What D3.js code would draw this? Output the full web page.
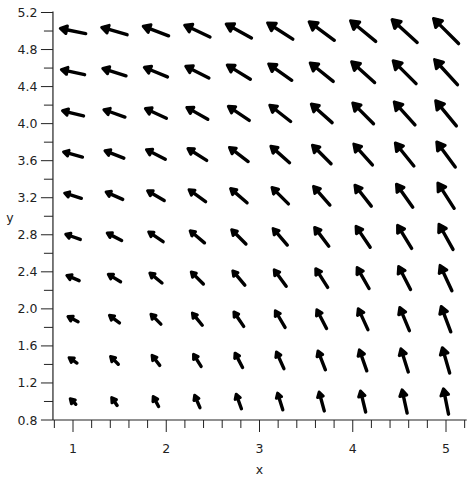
<!DOCTYPE html>
<html><head><meta charset="utf-8">
<script src="https://cdn.jsdelivr.net/npm/d3@7"></script>
<style>html,body{margin:0;padding:0;background:#fff;}svg{display:block;}</style>
</head><body>
<script>
// grid positions
const gridX = [1, 1.444, 1.889, 2.333, 2.778, 3.222, 3.667, 4.111, 4.556, 5];
const gridY = [1, 1.444, 1.889, 2.333, 2.778, 3.222, 3.667, 4.111, 4.556, 5];
// vector components, rows = gridY, columns = gridX
const U = [
 [-1,-1,-1,-1,-1,-1,-1,-1,-1,-1],
 [-1.444,-1.444,-1.444,-1.444,-1.444,-1.444,-1.444,-1.444,-1.444,-1.444],
 [-1.889,-1.889,-1.889,-1.889,-1.889,-1.889,-1.889,-1.889,-1.889,-1.889],
 [-2.333,-2.333,-2.333,-2.333,-2.333,-2.333,-2.333,-2.333,-2.333,-2.333],
 [-2.778,-2.778,-2.778,-2.778,-2.778,-2.778,-2.778,-2.778,-2.778,-2.778],
 [-3.222,-3.222,-3.222,-3.222,-3.222,-3.222,-3.222,-3.222,-3.222,-3.222],
 [-3.667,-3.667,-3.667,-3.667,-3.667,-3.667,-3.667,-3.667,-3.667,-3.667],
 [-4.111,-4.111,-4.111,-4.111,-4.111,-4.111,-4.111,-4.111,-4.111,-4.111],
 [-4.556,-4.556,-4.556,-4.556,-4.556,-4.556,-4.556,-4.556,-4.556,-4.556],
 [-5,-5,-5,-5,-5,-5,-5,-5,-5,-5]
];
const V = [
 [1,1.444,1.889,2.333,2.778,3.222,3.667,4.111,4.556,5],
 [1,1.444,1.889,2.333,2.778,3.222,3.667,4.111,4.556,5],
 [1,1.444,1.889,2.333,2.778,3.222,3.667,4.111,4.556,5],
 [1,1.444,1.889,2.333,2.778,3.222,3.667,4.111,4.556,5],
 [1,1.444,1.889,2.333,2.778,3.222,3.667,4.111,4.556,5],
 [1,1.444,1.889,2.333,2.778,3.222,3.667,4.111,4.556,5],
 [1,1.444,1.889,2.333,2.778,3.222,3.667,4.111,4.556,5],
 [1,1.444,1.889,2.333,2.778,3.222,3.667,4.111,4.556,5],
 [1,1.444,1.889,2.333,2.778,3.222,3.667,4.111,4.556,5],
 [1,1.444,1.889,2.333,2.778,3.222,3.667,4.111,4.556,5]
];
const xTicks = [0.8,1,1.2,1.4,1.6,1.8,2,2.2,2.4,2.6,2.8,3,3.2,3.4,3.6,3.8,4,4.2,4.4,4.6,4.8,5,5.2];
const xLabels = [1,2,3,4,5];
const yTicks = [0.8,1,1.2,1.4,1.6,1.8,2,2.2,2.4,2.6,2.8,3,3.2,3.4,3.6,3.8,4,4.2,4.4,4.6,4.8,5,5.2];
const yLabels = ["0.8","1.2","1.6","2.0","2.4","2.8","3.2","3.6","4.0","4.4","4.8","5.2"];

const W = 474, H = 480;
const svg = d3.select("body").append("svg").attr("width", W).attr("height", H);
const x = d3.scaleLinear().domain([1, 5]).range([73, 446]);
const y = d3.scaleLinear().domain([0.8, 5.2]).range([420, 12.5]);
const axisColor = "#222";
const font = "'DejaVu Sans', sans-serif";

// axes lines
const x0 = x(0.785), x1 = x(5.222);
svg.append("line").attr("x1", x0).attr("x2", x1).attr("y1", y(0.8)).attr("y2", y(0.8))
  .attr("stroke", axisColor).attr("stroke-width", 1.2);
svg.append("line").attr("x1", x0).attr("x2", x0).attr("y1", y(0.8)).attr("y2", y(5.2) - 1)
  .attr("stroke", axisColor).attr("stroke-width", 1.2);

// x ticks
xTicks.forEach(t => {
  const major = xLabels.some(v => Math.abs(v - t) < 1e-6);
  svg.append("line").attr("x1", x(t)).attr("x2", x(t)).attr("y1", y(0.8)).attr("y2", y(0.8) + (major ? 12 : 8))
    .attr("stroke", axisColor).attr("stroke-width", 1);
});
xLabels.forEach(t => {
  svg.append("text").attr("x", x(t)).attr("y", 452.5).attr("text-anchor", "middle")
    .attr("font-family", font).attr("font-size", 12.5).attr("fill", "#222").text(t);
});
// y ticks
yTicks.forEach(t => {
  const lbl = yLabels.find(v => Math.abs(+v - t) < 1e-6);
  svg.append("line").attr("x1", x0).attr("x2", x0 - (lbl ? 12 : 9)).attr("y1", y(t)).attr("y2", y(t))
    .attr("stroke", axisColor).attr("stroke-width", 1);
  if (lbl) svg.append("text").attr("x", 37.5).attr("y", y(t) + 4.5).attr("text-anchor", "end")
    .attr("font-family", font).attr("font-size", 12.5).attr("fill", "#222").text(lbl);
});
svg.append("text").attr("x", 259.5).attr("y", 474).attr("text-anchor", "middle")
  .attr("font-family", font).attr("font-size", 12.5).attr("fill", "#222").text("x");
svg.append("text").attr("x", 10).attr("y", 222).attr("text-anchor", "middle")
  .attr("font-family", font).attr("font-size", 12.5).attr("fill", "#222").text("y");

// arrows
const arrows = [];
gridY.forEach((gy, i) => gridX.forEach((gx, j) => arrows.push({gx, gy, u: U[i][j], v: V[i][j]})));
const lenScale = d3.scaleLinear().domain([0, 7.071]).range([1, 35.5]);
const g = svg.append("g");
arrows.forEach(a => {
  const cx = x(a.gx), cy = y(a.gy);
  const mag = Math.hypot(a.u, a.v);
  const L = lenScale(mag);
  const dx = a.u / mag, dy = -a.v / mag; // screen direction
  const tx = cx + dx * L / 2, ty = cy + dy * L / 2;
  const bx = cx - dx * L / 2, by = cy - dy * L / 2;
  const h = Math.max(4.5, Math.min(8, L * 0.25));
  const w = h * 0.6;
  const hx = tx - dx * h, hy = ty - dy * h;
  const px = -dy, py = dx;
  g.append("line").attr("x1", bx).attr("y1", by).attr("x2", hx).attr("y2", hy)
    .attr("stroke", "#000").attr("stroke-width", 3.4).attr("stroke-linecap", "round");
  g.append("path").attr("d", `M${tx},${ty}L${hx + px * w},${hy + py * w}L${hx - px * w},${hy - py * w}Z`)
    .attr("fill", "#000").attr("stroke", "#000").attr("stroke-width", 3).attr("stroke-linejoin", "round");
  g.append("circle").attr("cx", hx + dx * h * 0.35).attr("cy", hy + dy * h * 0.35).attr("r", Math.max(2.2, h * 0.45))
    .attr("fill", "#000");
});
</script>
</body></html>
